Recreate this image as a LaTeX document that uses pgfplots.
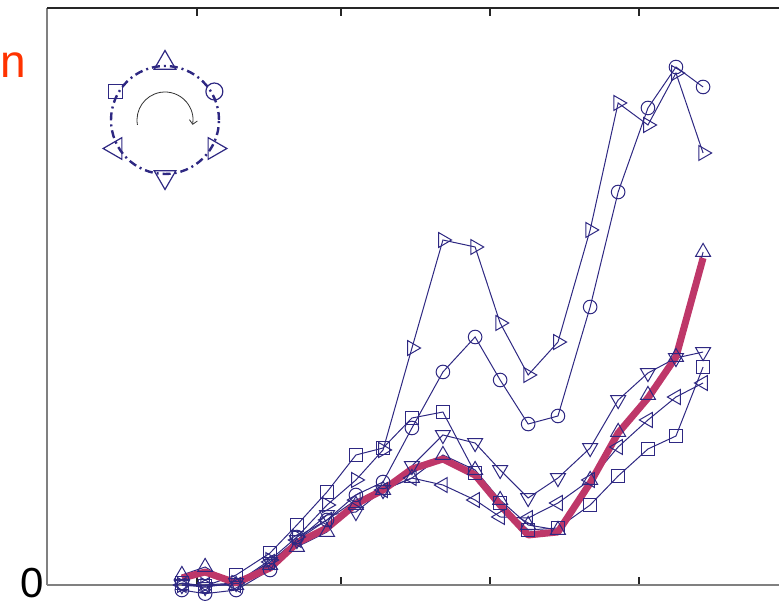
\documentclass[border=0pt]{standalone}
\usepackage{fontspec}
\setmainfont{Liberation Sans}
\usepackage{pgfplots}
\usepackage{pgfplotstable}
\pgfplotsset{compat=1.18}
\usetikzlibrary{shapes.geometric,arrows.meta}
\definecolor{ind}{RGB}{46,40,130}
\definecolor{crim}{RGB}{190,55,105}
\definecolor{nred}{RGB}{255,51,0}

\pgfplotstableread{
x     sq     rt     ci     dn     up     lt     rd
-0.34 0.35   0      -0.87  0      1.73   0      1.21
0.44  -0.17  0      -1.5   -0.35  3.12   0      2.25
1.48  1.73   0.35   -0.87  0.35   0      0      0.35
2.62  5.55   4.33   2.60   3.99   3.47   3.99   2.95
3.52  10.40  8.32   8.32   7.80   6.59   7.80   7.28
4.53  16.12  13.86  11.27  12.13  9.19   11.27  9.88
5.50  22.53  18.20  15.60  12.65  13.86  14.73  14.04
6.41  23.74  23.40  17.85  16.46  16.46  16.46  16.46
7.38  28.94  41.07  27.21  20.62  18.54  18.54  20.10
8.42  29.98  59.79  36.92  26.00  22.53  17.33  21.84
9.50  19.41  58.58  42.98  24.61  19.93  14.73  19.06
10.34 14.21  45.41  35.53  19.93  14.73  11.79  13.86
11.28 9.53   36.40  27.90  15.08  10.40  11.61  8.67
12.28 9.88   42.11  29.29  18.54  9.53   14.21  9.19
13.36 13.86  61.53  48.18  23.74  18.20  18.20  17.68
14.30 18.89  83.54  68.11  32.06  26.52  23.92  26.34
15.30 23.57  79.72  82.67  36.74  32.93  28.60  32.41
16.24 25.82  88.73  89.77  39.34  39.51  32.58  39.51
17.15 37.78  74.87  86.31  40.38  57.71  35.01  56.67
}\data

\begin{document}
\begin{tikzpicture}
\path[use as bounding box] (0,0) rectangle (389.5pt,301.5pt);
\clip (0,0) rectangle (389.5pt,301.5pt);
\begin{axis}[
  scale only axis, width=370.5pt, height=288.5pt,
  at={(23.5pt,9pt)}, anchor=south west,
  xmin=-4.866, xmax=20, ymin=0, ymax=100,
  axis line style={draw=none},
  xtick={0.17,5,10,15}, xticklabels={},
  ytick={0}, yticklabels={0},
  tick align=inside, major tick length=4pt,
  tick style={line width=0.7pt, black!85},
  /pgf/number format/assume math mode=true,
  yticklabel style={font=\fontsize{21}{22}\selectfont, inner xsep=0pt, xshift=-1.5pt, yshift=1.2pt},
  clip=false,
]
\draw[line width=1.2pt, gray] (rel axis cs:0,0) -- (rel axis cs:0,1);
\draw[line width=1.2pt, gray] (rel axis cs:0,0) -- (rel axis cs:1,0);
\draw[line width=1.2pt, black!85] (rel axis cs:0,1) -- (rel axis cs:1,1);

\addplot[ind, line width=0.5pt, mark=square, mark size=3.2pt, mark options={solid, fill=none}] table[x=x,y=sq] {\data};
\addplot[ind, line width=0.5pt, mark=triangle, mark size=4.3pt, mark options={solid, fill=none, rotate=-90}] table[x=x,y=rt] {\data};
\addplot[ind, line width=0.5pt, mark=o, mark size=3.4pt, mark options={solid, fill=none}] table[x=x,y=ci] {\data};
\addplot[ind, line width=0.5pt, mark=triangle, mark size=4.3pt, mark options={solid, fill=none, rotate=180}] table[x=x,y=dn] {\data};
\addplot[ind, line width=0.5pt, mark=triangle, mark size=4.3pt, mark options={solid, fill=none}] table[x=x,y=up] {\data};
\addplot[ind, line width=0.5pt, mark=triangle, mark size=4.3pt, mark options={solid, fill=none, rotate=90}] table[x=x,y=lt] {\data};
\addplot[crim, line width=3.5pt, no marks, line join=round] table[x=x,y=rd] {\data};
\end{axis}

% legend glyph
\begin{scope}[shift={(82.5pt,241.5pt)}]
  \draw[ind, line width=1.2pt, dash pattern=on 4pt off 2pt on 1pt off 2pt] (0,0) circle (27pt);
  \node[ind, draw, line width=0.6pt, regular polygon, regular polygon sides=3, minimum size=12.5pt, inner sep=0pt] at (90:28.5pt) {};
  \node[ind, draw, line width=0.6pt, circle, minimum size=8.5pt, inner sep=0pt] at (30:28.5pt) {};
  \node[ind, draw, line width=0.6pt, regular polygon, regular polygon sides=3, shape border rotate=-90, minimum size=12.5pt, inner sep=0pt] at (-30:28.5pt) {};
  \node[ind, draw, line width=0.6pt, regular polygon, regular polygon sides=3, shape border rotate=180, minimum size=12.5pt, inner sep=0pt] at (-90:28.5pt) {};
  \node[ind, draw, line width=0.6pt, regular polygon, regular polygon sides=3, shape border rotate=90, minimum size=12.5pt, inner sep=0pt] at (210:28.5pt) {};
  \node[ind, draw, line width=0.6pt, rectangle, minimum size=7pt, inner sep=0pt] at (150:28.5pt) {};
  \draw[black!80, line width=0.4pt, -{Straight Barb[length=2pt]}] (190:14pt) arc[start angle=190, end angle=-10, radius=14pt];
\end{scope}

\node[anchor=base west, inner sep=0pt, text=nred, font=\fontsize{23}{23}\selectfont] at (0pt,262.5pt) {n};
\end{tikzpicture}
\end{document}
